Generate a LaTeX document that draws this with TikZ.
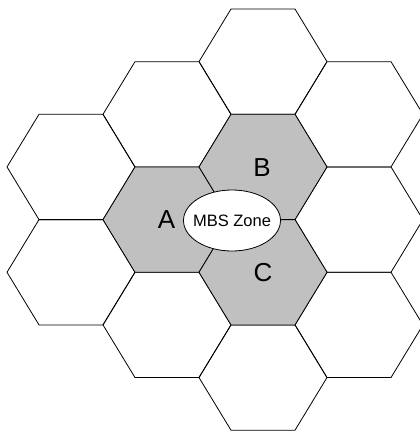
\documentclass[tikz,border=0pt]{standalone}
\usepackage{fontspec}
\setmainfont{Liberation Sans}
\definecolor{zonegray}{RGB}{192,192,192}
\begin{document}
\begin{tikzpicture}[x=1pt,y=-1pt,
  cell/.style={draw=black,line width=0.8pt,line join=miter},
  zone/.style={fill=zonegray},
  hexcell/.pic={\path[pic actions] (-64,0) -- (-32,-52.65) -- (32,-52.65) -- (64,0) -- (32,52.65) -- (-32,52.65) -- cycle;},
  cellname/.style={font=\fontsize{26}{26}\selectfont},
  zoneoval/.style={draw=black,fill=white,line width=0.8pt},
  zonetext/.style={inner sep=0pt,font=\fontsize{16.5}{16.5}\selectfont}]
\useasboundingbox (0,0) rectangle (420,432);
\clip (0,0) rectangle (420,432);
% plain cells of the grid
\foreach \cx/\cy in {263/61.65, 167/114.3, 359/114.3, 71/166.95, 359/219.6,
                     71/272.25, 167/324.9, 359/324.9, 263/377.55}
  \pic[cell] at (\cx,\cy) {hexcell};
% shaded cells around the zone
\foreach \cx/\cy in {167/219.6, 263/166.95, 263/272.25}
  \pic[cell,zone] at (\cx,\cy) {hexcell};
% cell names
\node[cellname] (cellA) at (166.5,220) {A};
\node[cellname] (cellB) at (262,167.5) {B};
\node[cellname] (cellC) at (263,273) {C};
% the zone itself
\path[zoneoval] (232,220.5) ellipse [x radius=48.5, y radius=30.5];
\node[zonetext] (mbszone) at (232,221) {MBS Zone};
\end{tikzpicture}
\end{document}
